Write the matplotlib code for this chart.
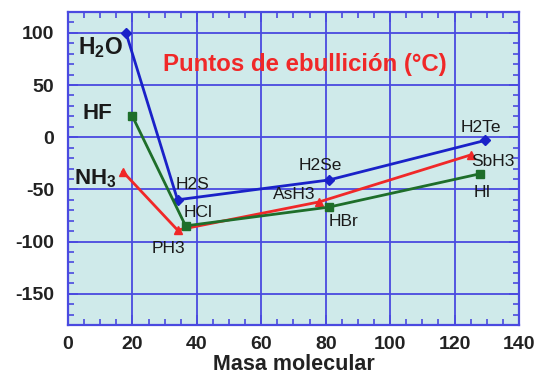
import matplotlib
matplotlib.use("Agg")
import matplotlib.pyplot as plt
from matplotlib.ticker import MultipleLocator

plt.rcParams['font.family'] = ['Liberation Sans', 'DejaVu Sans']
plt.rcParams['axes.unicode_minus'] = False
plt.rcParams['mathtext.fontset'] = 'custom'
plt.rcParams['mathtext.rm'] = 'Liberation Sans'
plt.rcParams['mathtext.bf'] = 'Liberation Sans:bold'
plt.rcParams['mathtext.it'] = 'Liberation Sans:italic'

# Data
grp16_mass = [18, 34, 81, 129.6]
grp16_bp = [100, -60, -41, -3]
grp16_names = ["H2O", "H2S", "H2Se", "H2Te"]

grp17_mass = [20, 36.5, 81, 128]
grp17_bp = [20, -85, -67, -35]
grp17_names = ["HF", "HCl", "HBr", "HI"]

grp15_mass = [17, 34, 78, 125]
grp15_bp = [-33, -89, -62, -17]
grp15_names = ["NH3", "PH3", "AsH3", "SbH3"]

x_ticks = [0, 20, 40, 60, 80, 100, 120, 140]
y_ticks = [100, 50, 0, -50, -100, -150]

fig = plt.figure(figsize=(5.42, 3.79), dpi=100)
ax = fig.add_axes([0.1255, 0.1425, 0.832, 0.8258])
ax.set_facecolor('#cfeaea')

blue = '#1a22c8'
green = '#1e6e2a'
red = '#f02828'
gridc = '#4a4ae0'

ax.set_xlim(0, 140)
ax.set_ylim(-180, 120)
ax.set_xticks(x_ticks)
ax.set_yticks(y_ticks)
ax.xaxis.set_minor_locator(MultipleLocator(5))
ax.yaxis.set_minor_locator(MultipleLocator(10))
ax.grid(True, which='major', color=gridc, linewidth=1.3, zorder=0)
ax.set_axisbelow(True)
for s in ax.spines.values():
    s.set_color(gridc)
    s.set_linewidth(1.6)
ax.tick_params(which='both', direction='in', top=True, right=True, colors=gridc,
               labelcolor='#222222')
ax.tick_params(which='major', length=7, width=1.3, labelsize=14)
ax.tick_params(axis='y', which='major', pad=10)
ax.tick_params(axis='x', which='major', pad=8)
ax.tick_params(which='minor', length=4, width=1.2)
for lab in ax.get_xticklabels() + ax.get_yticklabels():
    lab.set_fontweight('bold')
ax.set_xlabel("Masa molecular", fontsize=15.5, fontweight='bold', color='#222222', labelpad=1)

ax.plot(grp16_mass, grp16_bp, color=blue, marker='D', markersize=5, linewidth=2, zorder=3)
ax.plot(grp15_mass, grp15_bp, color=red, marker='^', markersize=6, linewidth=2, zorder=3)
ax.plot(grp17_mass, grp17_bp, color=green, marker='s', markersize=6, linewidth=2, zorder=4)

tc = '#1a1a1a'
# Big bold labels
ax.text(3.2, 86, r"$\mathbf{H_2O}$", fontsize=16.5, color=tc, va='center', ha='left')
ax.text(4.5, 23, "HF", fontsize=16, fontweight='bold', color=tc, va='center', ha='left')
ax.text(1.9, -40, r"$\mathbf{NH_3}$", fontsize=16, color=tc, va='center', ha='left')

small = [
    ("H2S", 33.3, -45), ("HCl", 36, -72), ("PH3", 26, -107),
    ("AsH3", 63.5, -55), ("H2Se", 71.5, -27), ("HBr", 81, -81),
    ("H2Te", 122, 9), ("SbH3", 125.2, -23), ("HI", 126, -53),
]
for name, x, y in small:
    ax.text(x, y, name, fontsize=12.5, color=tc, va='center', ha='left')

ax.text(73.5, 70, "Puntos de ebullición (°C)", fontsize=17.3, fontweight='bold', color=red,
        ha='center', va='center')

fig.savefig("out.png", dpi=100)
